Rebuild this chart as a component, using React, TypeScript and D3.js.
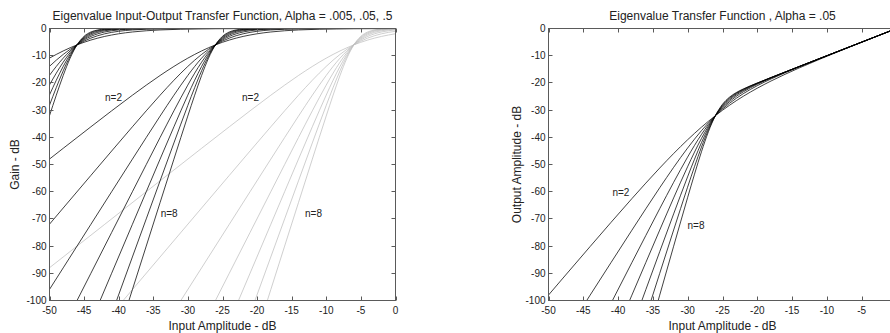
import React from 'react';
import * as d3 from 'd3';

// Input level relative to the threshold alpha (dB)
const RELATIVE_INPUT = [-44, -36, -28, -22, -18, -15, -12, -10, -8, -6, -5, -4, -3, -2, -1, 0, 1, 2, 3, 4, 5, 6, 8, 10, 12, 15, 20, 26, 34, 46];

// Gain (dB) for each order n, sampled at RELATIVE_INPUT
const FILTER_ORDERS = [2, 3, 4, 5, 6, 7, 8];
const GAIN_N2 = [-88, -72, -56.01, -44.05, -36.14, -30.27, -24.53, -20.83, -17.28, -13.95, -12.39, -10.91, -9.53, -8.25, -7.08, -6.02, -5.08, -4.25, -3.53, -2.91, -2.39, -1.95, -1.28, -0.83, -0.53, -0.27, -0.09, -0.02, 0, 0];
const GAIN_N3 = [-132, -108, -84, -66, -54.02, -45.05, -36.14, -30.27, -24.53, -19.03, -16.42, -13.95, -11.64, -9.53, -7.65, -6.02, -4.65, -3.53, -2.64, -1.95, -1.42, -1.03, -0.53, -0.27, -0.14, -0.05, -0.01, 0, 0, 0];
const GAIN_N4 = [-176, -144, -112, -88, -72, -60.01, -48.03, -40.09, -32.22, -24.53, -20.83, -17.28, -13.95, -10.91, -8.25, -6.02, -4.25, -2.91, -1.95, -1.28, -0.83, -0.53, -0.22, -0.09, -0.03, -0.01, 0, 0, 0, 0];
const GAIN_N5 = [-220, -180, -140, -110, -90, -75, -60.01, -50.03, -40.09, -30.27, -25.48, -20.83, -16.42, -12.39, -8.88, -6.02, -3.88, -2.39, -1.42, -0.83, -0.48, -0.27, -0.09, -0.03, -0.01, 0, 0, 0, 0, 0];
const GAIN_N6 = [-264, -216, -168, -132, -108, -90, -72, -60.01, -48.03, -36.14, -30.27, -24.53, -19.03, -13.95, -9.53, -6.02, -3.53, -1.95, -1.03, -0.53, -0.27, -0.14, -0.03, -0.01, 0, 0, 0, 0, 0, 0];
const GAIN_N7 = [-308, -252, -196, -154, -126, -105, -84, -70, -56.01, -42.07, -35.15, -28.34, -21.74, -15.58, -10.21, -6.02, -3.21, -1.58, -0.74, -0.34, -0.15, -0.07, -0.01, 0, 0, 0, 0, 0, 0, 0];
const GAIN_N8 = [-352, -288, -224, -176, -144, -120, -96, -80, -64.01, -48.03, -40.09, -32.22, -24.53, -17.28, -10.91, -6.02, -2.91, -1.28, -0.53, -0.22, -0.09, -0.03, -0.01, 0, 0, 0, 0, 0, 0, 0];
const GAIN_BY_ORDER = [GAIN_N2, GAIN_N3, GAIN_N4, GAIN_N5, GAIN_N6, GAIN_N7, GAIN_N8];

// Thresholds shown in the two panels
const ALPHAS_GAIN = [0.005, 0.05, 0.5];
const ALPHA_TRANSFER = 0.05;

// Axis ticks (dB)
const X_TICKS_GAIN = [-50, -45, -40, -35, -30, -25, -20, -15, -10, -5, 0];
const X_TICKS_TRANSFER = [-50, -45, -40, -35, -30, -25, -20, -15, -10, -5];
const Y_TICKS = [0, -10, -20, -30, -40, -50, -60, -70, -80, -90, -100];

const W = 890;
const H = 333;
const TOP = 28.5;
const BOTTOM = 300.5;
const FONT = '"Liberation Sans", Arial, sans-serif';
const TEXT = '#222';
const AXIS = '#5a5a5a';
const TICK = 4;

const alphaDb = (a: number) => 20 * Math.log10(a);

type Pt = [number, number];
type Curve = { points: Pt[]; color: string };
type Note = { text: string; x: number; y: number };

function Panel(props: {
  id: string;
  x0: number;
  x1: number;
  title: string;
  yLabel: string;
  yLabelX: number;
  xTicks: number[];
  curves: Curve[];
  notes: Note[];
}) {
  const { id, x0, x1, title, yLabel, yLabelX, xTicks, curves, notes } = props;
  const x = d3.scaleLinear().domain([-50, 0]).range([x0, x1]);
  const y = d3.scaleLinear().domain([-100, 0]).range([BOTTOM, TOP]);
  const line = d3
    .line<Pt>()
    .x((d) => x(d[0]))
    .y((d) => y(d[1]))
    .curve(d3.curveMonotoneX);
  const cx = (x0 + x1) / 2;
  const cy = (TOP + BOTTOM) / 2;

  return (
    <g>
      <defs>
        <clipPath id={id}>
          <rect x={x0} y={TOP} width={x1 - x0} height={BOTTOM - TOP} />
        </clipPath>
      </defs>
      <g clipPath={`url(#${id})`}>
        {curves.map((c, i) => (
          <path key={i} d={line(c.points) || ''} fill="none" stroke={c.color} strokeWidth={0.75} />
        ))}
      </g>
      <rect x={x0} y={TOP} width={x1 - x0} height={BOTTOM - TOP} fill="none" stroke={AXIS} strokeWidth={1} />
      {xTicks.map((t) => {
        const px = Math.round(x(t)) + 0.5;
        return (
          <g key={'x' + t}>
            <line x1={px} x2={px} y1={BOTTOM} y2={BOTTOM - TICK} stroke={AXIS} />
            <line x1={px} x2={px} y1={TOP} y2={TOP + TICK} stroke={AXIS} />
            <text x={x(t)} y={314} textAnchor="middle" fontSize={10} fill={TEXT} fontFamily={FONT}>
              {t}
            </text>
          </g>
        );
      })}
      {Y_TICKS.map((t) => {
        const py = Math.round(y(t) - 0.5) + 0.5;
        return (
          <g key={'y' + t}>
            <line x1={x0} x2={x0 + TICK} y1={py} y2={py} stroke={AXIS} />
            <line x1={x1} x2={x1 - TICK} y1={py} y2={py} stroke={AXIS} />
            <text x={x0 - 3} y={y(t)} dy="0.35em" textAnchor="end" fontSize={10} fill={TEXT} fontFamily={FONT}>
              {t}
            </text>
          </g>
        );
      })}
      {notes.map((n, i) => (
        <text key={i} x={x(n.x)} y={y(n.y)} dy="0.35em" textAnchor="middle" fontSize={10} fill={TEXT} fontFamily={FONT}>
          {n.text}
        </text>
      ))}
      <text x={cx} y={19.5} textAnchor="middle" fontSize={12} fill={TEXT} fontFamily={FONT}>
        {title}
      </text>
      <text x={cx} y={329.5} textAnchor="middle" fontSize={12} fill={TEXT} fontFamily={FONT}>
        Input Amplitude - dB
      </text>
      <text
        transform={`translate(${yLabelX},${cy}) rotate(-90)`}
        textAnchor="middle"
        fontSize={12}
        fill={TEXT}
        fontFamily={FONT}
      >
        {yLabel}
      </text>
    </g>
  );
}

export default function App() {
  // Gain curves: one family per alpha, shifted to its threshold level
  const gainCurves: Curve[] = [];
  [...ALPHAS_GAIN].reverse().forEach((alpha) => {
    const offset = alphaDb(alpha);
    const color = alpha >= 0.5 ? '#bfbfbf' : '#000';
    FILTER_ORDERS.forEach((_, k) => {
      gainCurves.push({
        color,
        points: RELATIVE_INPUT.map((r, i) => [offset + r, GAIN_BY_ORDER[k][i]] as Pt),
      });
    });
  });

  // Transfer curves: output level = input level + gain
  const tOffset = alphaDb(ALPHA_TRANSFER);
  const transferCurves: Curve[] = FILTER_ORDERS.map((_, k) => ({
    color: '#000',
    points: RELATIVE_INPUT.map((r, i) => [tOffset + r, tOffset + r + GAIN_BY_ORDER[k][i]] as Pt),
  }));

  return (
    <svg
      width={W}
      height={H}
      viewBox={`0 0 ${W} ${H}`}
      style={{ position: 'absolute', left: 0, top: 0, background: '#fff' }}
    >
      <rect width={W} height={H} fill="#fff" />
      <Panel
        id="clip-gain"
        x0={49.5}
        x1={395.5}
        title="Eigenvalue Input-Output Transfer Function, Alpha = .005, .05, .5"
        yLabel="Gain - dB"
        yLabelX={18.5}
        xTicks={X_TICKS_GAIN}
        curves={gainCurves}
        notes={[
          { text: 'n=2', x: -40.75, y: -25.4 },
          { text: 'n=2', x: -20.95, y: -25.4 },
          { text: 'n=8', x: -32.7, y: -68 },
          { text: 'n=8', x: -11.85, y: -68 },
        ]}
      />
      <Panel
        id="clip-transfer"
        x0={548.5}
        x1={896.5}
        title="Eigenvalue Transfer Function , Alpha = .05"
        yLabel="Output Amplitude - dB"
        yLabelX={520.5}
        xTicks={X_TICKS_TRANSFER}
        curves={transferCurves}
        notes={[
          { text: 'n=2', x: -39.6, y: -60.3 },
          { text: 'n=8', x: -28.8, y: -72.4 },
        ]}
      />
    </svg>
  );
}
